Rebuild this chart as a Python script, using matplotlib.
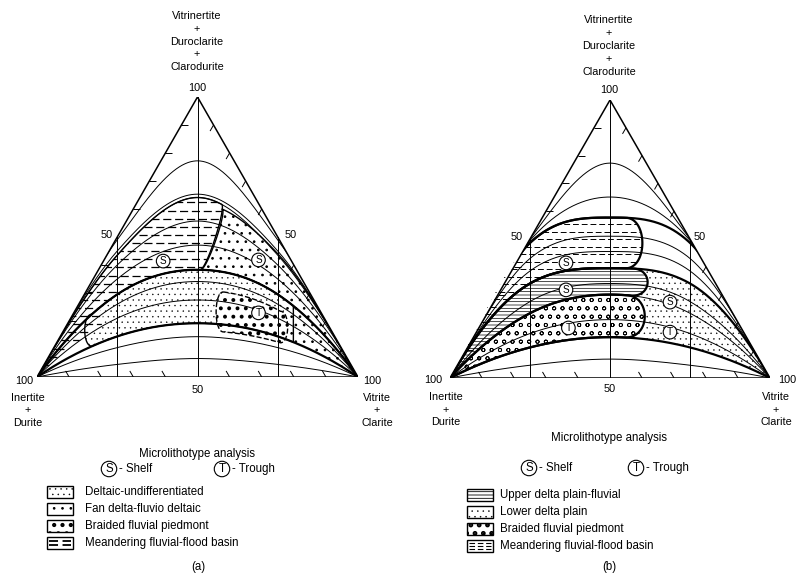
import numpy as np
import matplotlib
matplotlib.use("Agg")
import matplotlib.pyplot as plt
from matplotlib.bezier import BezierSegment
from matplotlib.patches import Polygon, Rectangle
from matplotlib.collections import LineCollection
from matplotlib.lines import Line2D
from matplotlib.transforms import IdentityTransform

plt.rcParams["font.family"] = ["Liberation Sans", "DejaVu Sans"]
plt.rcParams["hatch.linewidth"] = 0.5

W, H = 799, 576

# curve family: height on the 50 line and on the 25/75 lines (fraction of triangle height)
peak_a = [0.772, 0.653, 0.641, 0.557, 0.471, 0.383, 0.341, 0.275, 0.192, 0.144, 0.066]
shoulder_a = [0.490, 0.450, 0.435, 0.400, 0.350, 0.295, 0.260, 0.210, 0.145, 0.105, 0.045]
thick_a = [0.383, 0.192]
peak_b = [0.773, 0.651, 0.577, 0.510, 0.455, 0.395, 0.340, 0.300, 0.210, 0.147, 0.068]
shoulder_b = [0.500, 0.495, 0.486, 0.430, 0.385, 0.340, 0.275, 0.233, 0.160, 0.110, 0.046]
thick_b = [0.577, 0.395, 0.147]
# extra field boundaries (peak: shoulder)
extra_a = {0.620: 0.440, 0.310: 0.240, 0.165: 0.125}

# fields: (upper curve, lower curve, upper x-range, lower x-range, left cap, right cap)
fine_a = (0.383, 0.192, (0.17, 0.80), (0.17, 0.80), 0.03, None)
fan_a = (0.620, 0.383, (0.575, 1.0), (0.51, 1.0), -0.02, None)
fan2_a = (0.383, 0.192, (0.77, 1.0), (0.77, 1.0), None, None)
mea_a = (0.641, 0.383, (0.0, 0.575), (0.0, 0.51), None, 0.02)
mea2_a = (0.383, 0.275, (0.0, 0.19), (0.0, 0.19), None, 0.02)
braid_a = (0.310, 0.165, (0.58, 0.76), (0.58, 0.76), 0.03, 0.03)

lower_b = (0.395, 0.147, (0.5, 1.0), (0.5, 1.0), None, None)
mea_b = (0.577, 0.395, (0.0, 0.55), (0.0, 0.55), None, 0.07)
upper_b = (0.395, 0.300, (0.0, 0.57), (0.0, 0.57), None, 0.065)
braid_b = (0.300, 0.147, (0.0, 0.55), (0.0, 0.55), None, 0.08)

sites_a = [("S", 0.393, 0.414), ("S", 0.69, 0.418), ("T", 0.69, 0.229)]
sites_b = [("S", 0.3625, 0.414), ("S", 0.3625, 0.317), ("S", 0.6875, 0.273),
           ("T", 0.37, 0.18), ("T", 0.6875, 0.165)]

legend_a = ["Deltaic-undifferentiated", "Fan delta-fluvio deltaic",
            "Braided fluvial piedmont", "Meandering fluvial-flood basin"]
legend_b = ["Upper delta plain-fluvial", "Lower delta plain",
            "Braided fluvial piedmont", "Meandering fluvial-flood basin"]
tick_pos = [10, 20, 30, 40, 60, 70, 80, 90]

fig = plt.figure(figsize=(W / 100, H / 100), dpi=100)


def label(x, y, s, size=7.8, ha="center"):
    fig.text(x / W, 1 - y / H, s, fontsize=size, ha=ha, va="center")


def curve(bounds, h, x0=0.0, x1=1.0):
    # smooth curve through corner, shoulder, peak, shoulder, corner
    s = bounds[h]
    m1 = min(2 * h, 12 * (h - s))
    m0 = min(2.0, 8 * s - m1)
    knots = [(0, 0, m0), (0.25, s, m1), (0.5, h, 0), (0.75, s, -m1), (1, 0, -m0)]
    out = []
    for (xa, ya, ma), (xb, yb, mb) in zip(knots[:-1], knots[1:]):
        d = (xb - xa) / 3
        ctrl = np.array([[xa, ya], [xa + d, ya + ma * d], [xb - d, yb - mb * d], [xb, yb]])
        out.append(BezierSegment(ctrl)(np.linspace(0, 1, 150)))
    pts = np.vstack(out)
    return pts[(pts[:, 0] >= x0) & (pts[:, 0] <= x1)]


def cap(p, q, bulge):
    ctrl = np.array([p, p + [bulge, 0], q + [bulge, 0], q])
    return BezierSegment(ctrl)(np.linspace(0, 1, 40))


def outline(bounds, spec):
    up_h, lo_h, ux, lx, lcap, rcap = spec
    up = curve(bounds, up_h, *ux)
    lo = curve(bounds, lo_h, *lx)[::-1]
    parts = [up]
    if rcap is not None:
        parts.append(cap(up[-1], lo[0], rcap))
    parts.append(lo)
    if lcap is not None:
        parts.append(cap(lo[-1], up[0], -lcap))
    return np.vstack(parts)


def field(ax, clip, bounds, spec, hatch=None, hlw=0.5):
    p = Polygon(outline(bounds, spec), closed=True, fc="white", ec="black", lw=0,
                hatch=hatch, zorder=1)
    if hasattr(p, "set_hatch_linewidth"):
        p.set_hatch_linewidth(hlw)
    ax.add_patch(p)
    p.set_clip_path(clip)
    return p


def dashes(ax, patch, gap, lw, dash):
    ys = np.arange(gap / 2, 1.0, gap)
    for i, off in enumerate((0, dash[0] * 0.6)):
        lc = ax.hlines(ys[i::2], 0, 1, colors="black", linewidths=lw,
                       linestyles=[(off, dash)], zorder=1.5)
        lc.set_clip_path(patch)


def edge(ax, clip, bounds, spec, lw=1.2, ls="-"):
    p = Polygon(outline(bounds, spec), closed=True, fill=False, ec="black", lw=lw, ls=ls, zorder=3)
    ax.add_patch(p)
    p.set_clip_path(clip)


def panel(l, r, base, apex, bounds, peaks, thick):
    ax = fig.add_axes([l / W, 1 - base / H, (r - l) / W, (base - apex) / H])
    ax.set_xlim(0, 1)
    ax.set_ylim(0, 1)
    ax.axis("off")
    sx, sy = r - l, base - apex
    clip = Polygon([[0, 0], [1, 0], [0.5, 1]], closed=True, fc="none", ec="none")
    ax.add_patch(clip)
    ax.add_patch(Polygon([[0, 0], [1, 0], [0.5, 1]], closed=True, fill=False, lw=1.1, zorder=5))
    ax.plot([0.5, 0.5], [0, 1], color="black", lw=0.7, zorder=2)
    ax.plot([0.25, 0.25], [0, 0.5], color="black", lw=0.7, zorder=2)
    ax.plot([0.75, 0.75], [0, 0.5], color="black", lw=0.7, zorder=2)
    tl = 7
    segs = []
    for k in tick_pos:
        f = k / 100
        segs.append([(f, 0), (f - 0.5 * tl / sx, 0.866 * tl / sy)])
        segs.append([(f / 2, f), (f / 2 + tl / sx, f)])
        segs.append([(1 - f / 2, f), (1 - f / 2 - 0.5 * tl / sx, f - 0.866 * tl / sy)])
    ax.add_collection(LineCollection(segs, colors="black", linewidths=0.7, zorder=5))
    for h in peaks:
        pts = curve(bounds, h)
        ln, = ax.plot(pts[:, 0], pts[:, 1], color="black",
                      lw=1.6 if h in thick else 0.7, zorder=2)
        ln.set_clip_path(clip)
    return ax, clip


def site(ax, s, x, y):
    ax.text(x, y, s, fontsize=7.2, ha="center", va="center", zorder=6,
            bbox=dict(boxstyle="circle,pad=0.18", fc="white", ec="black", lw=0.8))


def swatch(x0, yc, hatch=None, hlw=0.5, dash_rows=0, dash_lw=1.0):
    w, h = 26, 12
    rect = Rectangle((x0, H - yc - h / 2), w, h, transform=IdentityTransform(),
                     fc="white", ec="black", lw=1.0, hatch=hatch)
    if hasattr(rect, "set_hatch_linewidth"):
        rect.set_hatch_linewidth(hlw)
    fig.add_artist(rect)
    for i in range(dash_rows):
        yy = H - yc - h / 2 + h * (i + 1) / (dash_rows + 1)
        fig.add_artist(Line2D([x0 + 2, x0 + w - 2], [yy, yy], transform=IdentityTransform(),
                              color="black", lw=dash_lw, dashes=(5, 2.5)))


def texts(cx, top_y, lx, rx, base_y, s50l, s50r, micro_y, key_y, shelf_x, trough_x):
    names = ["Vitrinertite", "+", "Duroclarite", "+", "Clarodurite"]
    for i, s in enumerate(names):
        label(cx, top_y[i], s)
    label(cx, top_y[5], "100")
    label(lx[0], base_y + 3, "100")
    label(rx[0], base_y + 3, "100")
    label(cx + 1, base_y + 12, "50")
    for i, s in enumerate(["Inertite", "+", "Durite"]):
        label(lx[1], base_y + 20 + 12.5 * i, s)
    for i, s in enumerate(["Vitrite", "+", "Clarite"]):
        label(rx[1], base_y + 20 + 12.5 * i, s)
    label(s50l[0], s50l[1], "50")
    label(s50r[0], s50r[1], "50")
    label(cx, micro_y, "Microlithotype analysis", size=8.3)
    for ch, x, txt in (("S", shelf_x, "- Shelf"), ("T", trough_x, "- Trough")):
        fig.text(x / W, 1 - key_y / H, ch, fontsize=8.3, ha="center", va="center",
                 bbox=dict(boxstyle="circle,pad=0.15", fc="white", ec="black", lw=0.8))
        label(x + 10, key_y, txt, size=8.3, ha="left")


# ---------- panel (a)
bounds_a = dict(zip(peak_a, shoulder_a))
bounds_a.update(extra_a)
ax_a, clip_a = panel(37, 358, 377, 97, bounds_a, peak_a, thick_a)
field(ax_a, clip_a, bounds_a, fine_a, "...", 0.25)
field(ax_a, clip_a, bounds_a, fan_a, "..", 0.7)
field(ax_a, clip_a, bounds_a, fan2_a, "..", 0.7)
p = field(ax_a, clip_a, bounds_a, mea_a)
dashes(ax_a, p, 0.029, 0.9, (6.5, 3))
p = field(ax_a, clip_a, bounds_a, mea2_a)
dashes(ax_a, p, 0.029, 0.9, (6.5, 3))
field(ax_a, clip_a, bounds_a, braid_a, "..", 1.6)
edge(ax_a, clip_a, bounds_a, mea_a, 1.0)
edge(ax_a, clip_a, bounds_a, fan_a, 1.0)
edge(ax_a, clip_a, bounds_a, fine_a, 1.0)
edge(ax_a, clip_a, bounds_a, braid_a, 1.0, "--")
for s, x, y in sites_a:
    site(ax_a, s, x, y)

texts(197, [16, 29, 42, 54, 67, 88], (24, 28), (372, 377), 378, (107, 235), (291, 235),
      454, 469, 109, 222)
rows_a = [492, 509, 526, 543]
swatch(47, rows_a[0], "...", 0.3)
swatch(47, rows_a[1], "..", 0.7)
swatch(47, rows_a[2], "..", 1.8)
swatch(47, rows_a[3], dash_rows=2, dash_lw=1.3)
for y, s in zip(rows_a, legend_a):
    label(85, y, s, size=8.3, ha="left")
label(198, 567, "(a)", size=8.3)

# ---------- panel (b)
bounds_b = dict(zip(peak_b, shoulder_b))
ax_b, clip_b = panel(450, 770, 378, 100, bounds_b, peak_b, thick_b)
field(ax_b, clip_b, bounds_b, lower_b, "...", 0.25)
p = field(ax_b, clip_b, bounds_b, mea_b)
dashes(ax_b, p, 0.027, 0.7, (6, 3))
field(ax_b, clip_b, bounds_b, upper_b, "-----", 0.5)
field(ax_b, clip_b, bounds_b, braid_b, "oo", 0.6)
for spec in (mea_b, upper_b, braid_b):
    edge(ax_b, clip_b, bounds_b, spec, 1.6)
for s, x, y in sites_b:
    site(ax_b, s, x, y)

texts(609, [20, 33, 46, 59, 72, 90], (433, 446), (787, 776), 377, (517, 237), (700, 237),
      438, 468, 529, 636)
rows_b = [495, 512, 529, 546]
swatch(467, rows_b[0], "-----", 0.6)
swatch(467, rows_b[1], "...", 0.3)
swatch(467, rows_b[2], "..", 2.2)
swatch(467, rows_b[3], dash_rows=3, dash_lw=0.8)
for y, s in zip(rows_b, legend_b):
    label(500, y, s, size=8.3, ha="left")
label(609, 567, "(b)", size=8.3)

fig.savefig("out.png", dpi=100, facecolor="white")
